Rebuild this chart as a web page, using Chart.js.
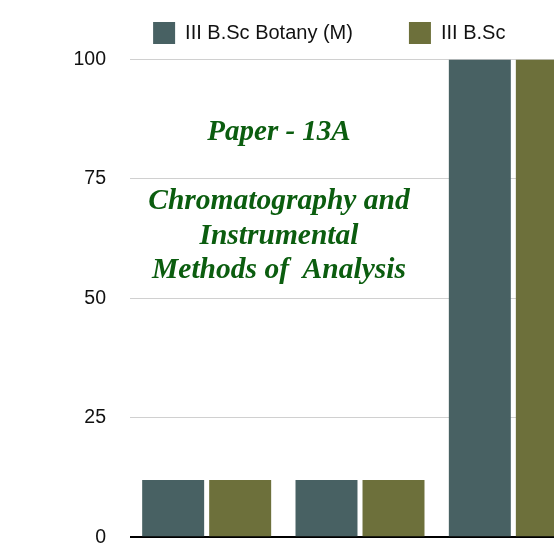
<!DOCTYPE html>
<html>
<head>
<meta charset="utf-8">
<script src="https://cdn.jsdelivr.net/npm/chart.js@4.4.0/dist/chart.umd.min.js"></script>
<style>
  html, body { margin: 0; padding: 0; background: #fff; overflow: hidden; width: 554px; height: 544px; }
  #wrap { position: relative; width: 590px; height: 573px; }
  #chart { display: block; }
  .note {
    position: absolute; left: 130px; width: 298px; text-align: center; white-space: pre;
    font: bold italic 29px "Liberation Serif", "Times New Roman", serif; color: #0b5d0f;
  }
  #paper { top: 116px; line-height: 29px; }
  #subject { top: 182px; line-height: 34.5px; font-size: 29.5px; }
</style>
</head>
<body>
<div id="wrap">
  <canvas id="chart" width="590" height="573"></canvas>
  <div class="note" id="paper">Paper - 13A</div>
  <div class="note" id="subject">Chromatography and
Instrumental
Methods of  Analysis</div>
</div>
<script>
// data (x labels are cropped out of the reference)
const categories   = ['Test 1', 'Test 2', 'Test 3'];
const seriesNames  = ['III B.Sc Botany (M)', 'III B.Sc'];
const botanyValues = [12, 12, 100];
const bscValues    = [12, 12, 100];
const yTicks       = [0, 25, 50, 75, 100];

const colors = ['#486163', '#6d703b'];
const sans = '"Liberation Sans", Arial, sans-serif';

// legend sits a little higher than chart.js would put it
const legendGap = {
  id: 'legendGap',
  beforeInit(chart) {
    const fit = chart.legend.fit;
    chart.legend.fit = function () { fit.bind(chart.legend)(); this.height += 5.5; };
  }
};

new Chart(document.getElementById('chart').getContext('2d'), {
  type: 'bar',
  data: {
    labels: categories,
    datasets: [
      { label: seriesNames[0], data: botanyValues, backgroundColor: colors[0], borderWidth: 0 },
      { label: seriesNames[1], data: bscValues,    backgroundColor: colors[1], borderWidth: 0 }
    ]
  },
  options: {
    responsive: false,
    animation: false,
    devicePixelRatio: 1,
    categoryPercentage: 0.874,
    barPercentage: 0.925,
    layout: { padding: { left: 68.5, right: 0, top: -34, bottom: 12 } },
    plugins: {
      legend: {
        display: true,
        labels: {
          boxWidth: 22, boxHeight: 22, padding: 56,
          color: '#111', font: { size: 20, family: sans }
        }
      },
      tooltip: { enabled: false }
    },
    scales: {
      x: { display: false },
      y: {
        min: 0, max: 100,
        afterFit: (s) => { s.width = 61.5; },
        afterBuildTicks: (s) => { s.ticks = yTicks.map(v => ({ value: v })); },
        ticks: { padding: 24, color: '#111', font: { size: 19.5, family: sans } },
        grid: {
          drawTicks: false,
          color: (ctx) => ctx.tick && ctx.tick.value === 0 ? '#000' : '#d0d0d0',
          lineWidth: (ctx) => ctx.tick && ctx.tick.value === 0 ? 2 : 1
        },
        border: { display: false }
      }
    }
  },
  plugins: [legendGap]
});
</script>
</body>
</html>
